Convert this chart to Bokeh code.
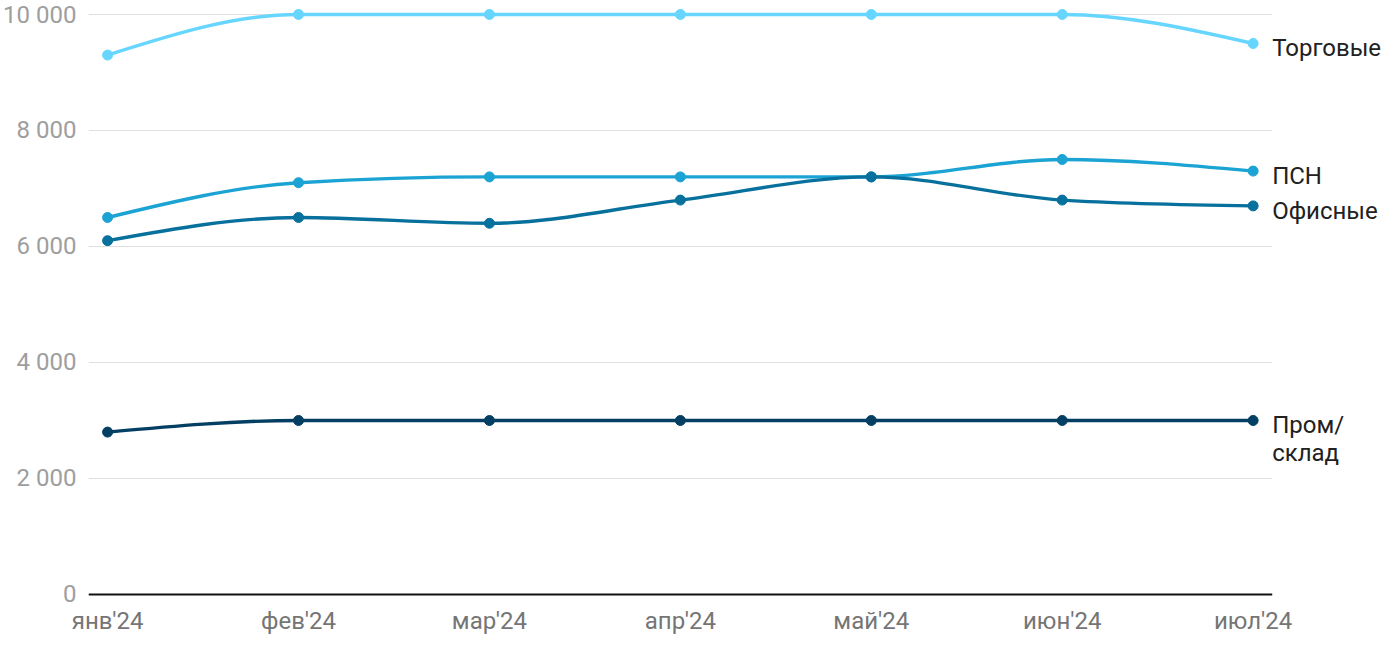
import numpy as np
from bokeh.plotting import figure
from bokeh.models import Range1d, FixedTicker, ColumnDataSource
from bokeh.core.properties import value
from bokeh.embed import file_html
from bokeh.resources import INLINE

# ---- data ----
months = ["янв'24", "фев'24", "мар'24", "апр'24", "май'24", "июн'24", "июл'24"]
torgovye = [9300, 10000, 10000, 10000, 10000, 10000, 9500]
psn = [6500, 7100, 7200, 7200, 7200, 7500, 7300]
ofisnye = [6100, 6500, 6400, 6800, 7200, 6800, 6700]
prom = [2800, 3000, 3000, 3000, 3000, 3000, 3000]
series_names = ["Торговые", "ПСН", "Офисные", "Пром/\nсклад"]
series_colors = ["#66d6ff", "#1ba3d3", "#07709c", "#033f63"]
y_ticks = [0, 2000, 4000, 6000, 8000, 10000]
y_tick_labels = ["0", "2 000", "4 000", "6 000", "8 000", "10 000"]

FONT = "Roboto"


def monotone_beziers(xs, ys):
    """d3 curveMonotoneX control points for each segment."""
    xs = np.asarray(xs, float)
    ys = np.asarray(ys, float)
    n = len(xs)
    t = np.zeros(n)
    for i in range(1, n - 1):
        h0 = xs[i] - xs[i - 1]
        h1 = xs[i + 1] - xs[i]
        s0 = (ys[i] - ys[i - 1]) / h0
        s1 = (ys[i + 1] - ys[i]) / h1
        p = (s0 * h1 + s1 * h0) / (h0 + h1)
        t[i] = (np.sign(s0) + np.sign(s1)) * min(abs(s0), abs(s1), 0.5 * abs(p))
    h = xs[1] - xs[0]
    t[0] = (3 * (ys[1] - ys[0]) / h - t[1]) / 2
    h = xs[-1] - xs[-2]
    t[-1] = (3 * (ys[-1] - ys[-2]) / h - t[-2]) / 2
    x0 = xs[:-1]; x1 = xs[1:]; y0 = ys[:-1]; y1 = ys[1:]
    dx = (x1 - x0) / 3
    return dict(x0=x0, y0=y0, x1=x1, y1=y1,
                cx0=x0 + dx, cy0=y0 + t[:-1] * dx,
                cx1=x1 - dx, cy1=y1 - t[1:] * dx)


xs = list(range(len(months)))

p = figure(width=1392, height=642, output_backend="svg", toolbar_location=None,
           x_range=Range1d(-0.1, 6.73), y_range=Range1d(-69, 10241),
           min_border_left=86, min_border_right=0, min_border_top=0,
           min_border_bottom=44)
p.outline_line_color = None
p.background_fill_color = "white"
p.border_fill_color = "white"
p.xgrid.visible = False
p.ygrid.visible = False

# grid lines
gy = [v for v in y_ticks if v != 0]
p.segment(x0=[-0.1] * len(gy), x1=[6.1] * len(gy), y0=gy, y1=gy,
          line_color="#e0e0e0", line_width=1)
# baseline
p.segment(x0=[-0.1], x1=[6.1], y0=[0], y1=[0], line_color="#111111", line_width=2)

# axes
p.yaxis.ticker = FixedTicker(ticks=y_ticks)
p.yaxis.major_label_overrides = {v: l for v, l in zip(y_ticks, y_tick_labels)}
p.yaxis.axis_line_color = None
p.yaxis.major_tick_line_color = None
p.yaxis.minor_tick_line_color = None
p.yaxis.major_tick_out = 0
p.yaxis.major_label_standoff = 12
p.yaxis.major_label_text_font = FONT
p.yaxis.major_label_text_font_size = "24px"
p.yaxis.major_label_text_color = "#9e9e9e"

p.xaxis.ticker = FixedTicker(ticks=xs)
p.xaxis.major_label_overrides = {i: m for i, m in enumerate(months)}
p.xaxis.axis_line_color = None
p.xaxis.major_tick_line_color = None
p.xaxis.minor_tick_line_color = None
p.xaxis.major_tick_out = 0
p.xaxis.major_label_standoff = 8
p.xaxis.major_label_text_font = FONT
p.xaxis.major_label_text_font_size = "24px"
p.xaxis.major_label_text_color = "#757575"

all_series = [torgovye, psn, ofisnye, prom]
for name, ys, col in zip(series_names, all_series, series_colors):
    bz = monotone_beziers(xs, ys)
    p.bezier(source=ColumnDataSource(bz), x0="x0", y0="y0", x1="x1", y1="y1",
             cx0="cx0", cy0="cy0", cx1="cx1", cy1="cy1",
             line_color=col, line_width=3.4)
    p.scatter(xs, ys, size=10, fill_color=col, line_color=col)
    p.text(x=[xs[-1]], y=[ys[-1]], text=[name], x_offset=19, y_offset=-9,
           text_align="left", text_baseline="top", text_font=value(FONT),
           text_font_size="24px", text_color="#212121", text_line_height=0.98)

open("out.html", "w").write(file_html(p, INLINE))
